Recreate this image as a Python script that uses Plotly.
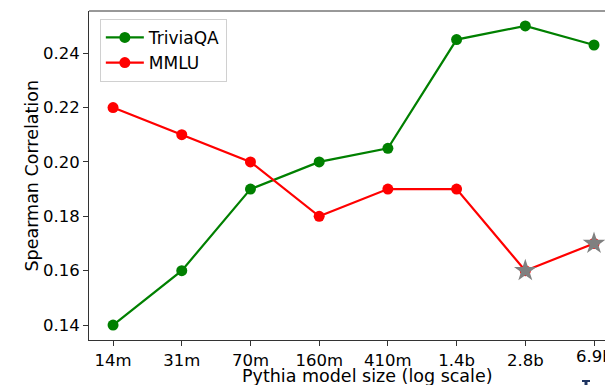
import plotly.graph_objects as go

sizes = ["14m", "31m", "70m", "160m", "410m", "1.4b", "2.8b", "6.9b"]
triviaqa = [0.14, 0.16, 0.19, 0.20, 0.205, 0.245, 0.25, 0.243]
mmlu = [0.22, 0.21, 0.20, 0.18, 0.19, 0.19, 0.16, 0.17]
star_idx = [6, 7]

xi = list(range(len(sizes)))
font = "DejaVu Sans"

fig = go.Figure()
fig.add_trace(go.Scatter(x=xi, y=triviaqa, mode="lines+markers", name="TriviaQA",
                         line=dict(color="green", width=2.2),
                         marker=dict(color="green", size=11), cliponaxis=False))
fig.add_trace(go.Scatter(x=xi, y=mmlu, mode="lines+markers", name="MMLU",
                         line=dict(color="red", width=2.2),
                         marker=dict(color="red", size=11), cliponaxis=False))
fig.add_trace(go.Scatter(x=[xi[i] for i in star_idx], y=[mmlu[i] for i in star_idx],
                         mode="markers", showlegend=False, cliponaxis=False,
                         marker=dict(symbol="star", color="grey", size=17, line=dict(width=0))))

# last tick label is drawn as an annotation so it can be cut by the page edge
ticklabels = sizes[:-1] + [""]

fig.update_layout(
    width=605, height=385,
    margin=dict(l=89, r=0, t=11, b=45, autoexpand=False),
    paper_bgcolor="white", plot_bgcolor="white",
    font=dict(family=font, size=16.5, color="black"),
    showlegend=True,
    legend=dict(x=0.021, y=0.976, xanchor="left", yanchor="top",
                bgcolor="rgba(255,255,255,0.8)", bordercolor="#d0d0d0", borderwidth=1,
                font=dict(size=17, family=font), itemwidth=38, tracegroupgap=0),
    xaxis=dict(range=[-0.35, 7.16], tickmode="array", tickvals=xi, ticktext=ticklabels,
               automargin=False,
               showgrid=False, zeroline=False, showline=True, linecolor="#333", linewidth=1,
               ticks="outside", ticklen=5, tickcolor="#333", tickfont=dict(size=16.5)),
    yaxis=dict(range=[0.1345, 0.2555], tickvals=[0.14, 0.16, 0.18, 0.20, 0.22, 0.24],
               ticktext=["0.14", "0.16", "0.18", "0.20", "0.22", "0.24"],
               automargin=False,
               showgrid=False, zeroline=False, showline=True, linecolor="#333", linewidth=1,
               ticks="outside", ticklen=5, tickcolor="#333", tickfont=dict(size=16.5)),
    annotations=[
        dict(text=sizes[-1], xref="x", yref="paper", x=xi[-1], y=(340 - 356) / 329,
             xanchor="center", yanchor="middle", showarrow=False,
             font=dict(size=16.5, family=font)),
        dict(text="Pythia model size (log scale)", xref="paper", yref="paper",
             x=(367 - 89) / 516, y=(340 - 376) / 329, xanchor="center", yanchor="middle",
             showarrow=False, font=dict(size=17.5, family=font)),
        dict(text="Spearman Correlation", xref="paper", yref="paper",
             x=(31 - 89) / 516, y=0.5, xanchor="center", yanchor="middle", textangle=-90,
             showarrow=False, font=dict(size=17.5, family=font)),
    ],
)
fig.add_shape(type="line", xref="paper", yref="paper", x0=0, x1=1, y0=1, y1=1,
              line=dict(color="#333", width=1))
# small navy fragment visible at the bottom-right edge of the reference
fig.add_shape(type="rect", xref="paper", yref="paper",
              x0=(582 - 89) / 516, x1=(590 - 89) / 516,
              y0=(340 - 382) / 329, y1=(340 - 380) / 329,
              line=dict(width=0), fillcolor="#1f3561")
fig.add_shape(type="rect", xref="paper", yref="paper",
              x0=(584.5 - 89) / 516, x1=(587.5 - 89) / 516,
              y0=(340 - 385) / 329, y1=(340 - 382) / 329,
              line=dict(width=0), fillcolor="#1f3561")

fig.write_html("out.html", config={"displayModeBar": False},
               post_script="document.body.style.margin='0';document.body.style.overflow='hidden';")
